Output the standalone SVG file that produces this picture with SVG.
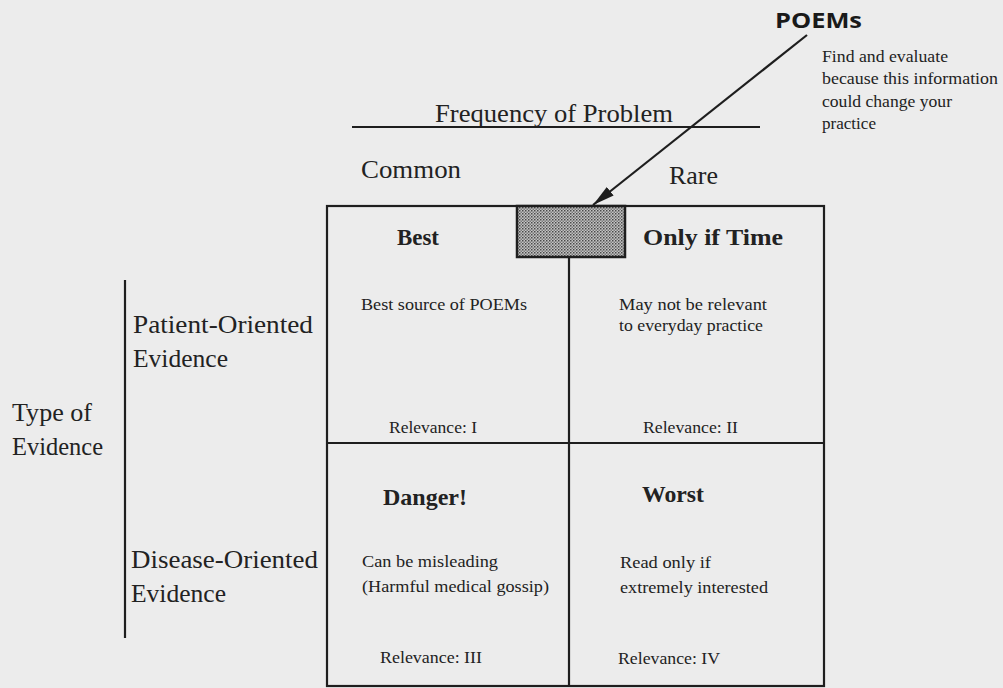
<svg xmlns="http://www.w3.org/2000/svg" width="1003" height="688" viewBox="0 0 1003 688">
  <defs>
    <style>
      .t { font-family: "Liberation Serif", "DejaVu Serif", serif; fill: #222; }
      .big { font-size: 25px; }
      .head { font-size: 24px; font-weight: bold; }
      .small { font-size: 17px; }
      .note { font-size: 17px; }
      .poems { font-family: "Open Sans", "Liberation Sans", sans-serif; font-size: 22px; font-weight: bold; fill: #1a1a1a; }
      .line { stroke: #1e1e1e; stroke-width: 2.2; fill: none; }
    </style>
    <pattern id="dots" width="3" height="3" patternUnits="userSpaceOnUse">
      <rect width="3" height="3" fill="#c4c4c4"/>
      <rect width="1.5" height="1.5" fill="#4a4a4a"/>
      <rect x="1.5" y="1.5" width="1.5" height="1.5" fill="#7a7a7a"/>
    </pattern>
    <marker id="arrowhead" viewBox="0 0 20 10" refX="20" refY="5" markerWidth="22" markerHeight="11" markerUnits="userSpaceOnUse" orient="auto">
      <path d="M0,0 L20,5 L0,10 z" fill="#1e1e1e"/>
    </marker>
  </defs>

  <rect width="1003" height="688" fill="#ececec"/>

  <g id="poems">
    <text class="poems" x="775" y="28" textLength="87" lengthAdjust="spacingAndGlyphs">POEMs</text>
    <text class="t note" x="822" y="62" textLength="126" lengthAdjust="spacingAndGlyphs">Find and evaluate</text>
    <text class="t note" x="822" y="84" textLength="176" lengthAdjust="spacingAndGlyphs">because this information</text>
    <text class="t note" x="822" y="107" textLength="130" lengthAdjust="spacingAndGlyphs">could change your</text>
    <text class="t note" x="822" y="129" textLength="54" lengthAdjust="spacingAndGlyphs">practice</text>
  </g>

  <g id="frequency-axis">
    <text class="t big" x="435" y="122" textLength="238" lengthAdjust="spacingAndGlyphs">Frequency of  Problem</text>
    <line class="line" x1="352" y1="127" x2="760" y2="127"/>
    <text class="t big" x="361" y="178" textLength="100" lengthAdjust="spacingAndGlyphs">Common</text>
    <text class="t big" x="669" y="184" textLength="49" lengthAdjust="spacingAndGlyphs">Rare</text>
  </g>

  <g id="evidence-axis">
    <line class="line" x1="125" y1="280" x2="125" y2="638"/>
    <text class="t big" x="12" y="421" textLength="80" lengthAdjust="spacingAndGlyphs">Type of</text>
    <text class="t big" x="12" y="455" textLength="91" lengthAdjust="spacingAndGlyphs">Evidence</text>
    <text class="t big" x="133" y="333" textLength="180" lengthAdjust="spacingAndGlyphs">Patient-Oriented</text>
    <text class="t big" x="133" y="367" textLength="95" lengthAdjust="spacingAndGlyphs">Evidence</text>
    <text class="t big" x="131" y="568" textLength="187" lengthAdjust="spacingAndGlyphs">Disease-Oriented</text>
    <text class="t big" x="131" y="602" textLength="95" lengthAdjust="spacingAndGlyphs">Evidence</text>
  </g>

  <g id="grid">
    <rect class="line" x="327" y="206" width="497" height="480" stroke-width="2.5"/>
    <line class="line" x1="569" y1="257" x2="569" y2="686"/>
    <line class="line" x1="327" y1="443" x2="824" y2="443"/>
  </g>

  <g id="poems-box">
    <rect x="517" y="206" width="108" height="51" fill="url(#dots)" stroke="#1e1e1e" stroke-width="2.5"/>
  </g>

  <g id="cell-best">
    <text class="t head" x="397" y="245" textLength="42" lengthAdjust="spacingAndGlyphs">Best</text>
    <text class="t small" x="361" y="310" textLength="166" lengthAdjust="spacingAndGlyphs">Best source of POEMs</text>
    <text class="t small" x="389" y="433" textLength="88" lengthAdjust="spacingAndGlyphs">Relevance: I</text>
  </g>

  <g id="cell-only-if-time">
    <text class="t head" x="643" y="245" textLength="140" lengthAdjust="spacingAndGlyphs">Only if Time</text>
    <text class="t small" x="619" y="310" textLength="148" lengthAdjust="spacingAndGlyphs">May not be relevant</text>
    <text class="t small" x="619" y="331" textLength="144" lengthAdjust="spacingAndGlyphs">to everyday practice</text>
    <text class="t small" x="643" y="433" textLength="95" lengthAdjust="spacingAndGlyphs">Relevance: II</text>
  </g>

  <g id="cell-danger">
    <text class="t head" x="383" y="505" textLength="84" lengthAdjust="spacingAndGlyphs">Danger!</text>
    <text class="t small" x="362" y="567" textLength="136" lengthAdjust="spacingAndGlyphs">Can be misleading</text>
    <text class="t small" x="362" y="592" textLength="187" lengthAdjust="spacingAndGlyphs">(Harmful medical gossip)</text>
    <text class="t small" x="380" y="663" textLength="102" lengthAdjust="spacingAndGlyphs">Relevance: III</text>
  </g>

  <g id="cell-worst">
    <text class="t head" x="642" y="502" textLength="62" lengthAdjust="spacingAndGlyphs">Worst</text>
    <text class="t small" x="620" y="568" textLength="91" lengthAdjust="spacingAndGlyphs">Read only if</text>
    <text class="t small" x="620" y="593" textLength="148" lengthAdjust="spacingAndGlyphs">extremely interested</text>
    <text class="t small" x="618" y="664" textLength="102" lengthAdjust="spacingAndGlyphs">Relevance: IV</text>
  </g>

  <g id="connectors">
    <line x1="807" y1="35" x2="593" y2="205" stroke="#1e1e1e" stroke-width="2.2" marker-end="url(#arrowhead)"/>
  </g>
</svg>
